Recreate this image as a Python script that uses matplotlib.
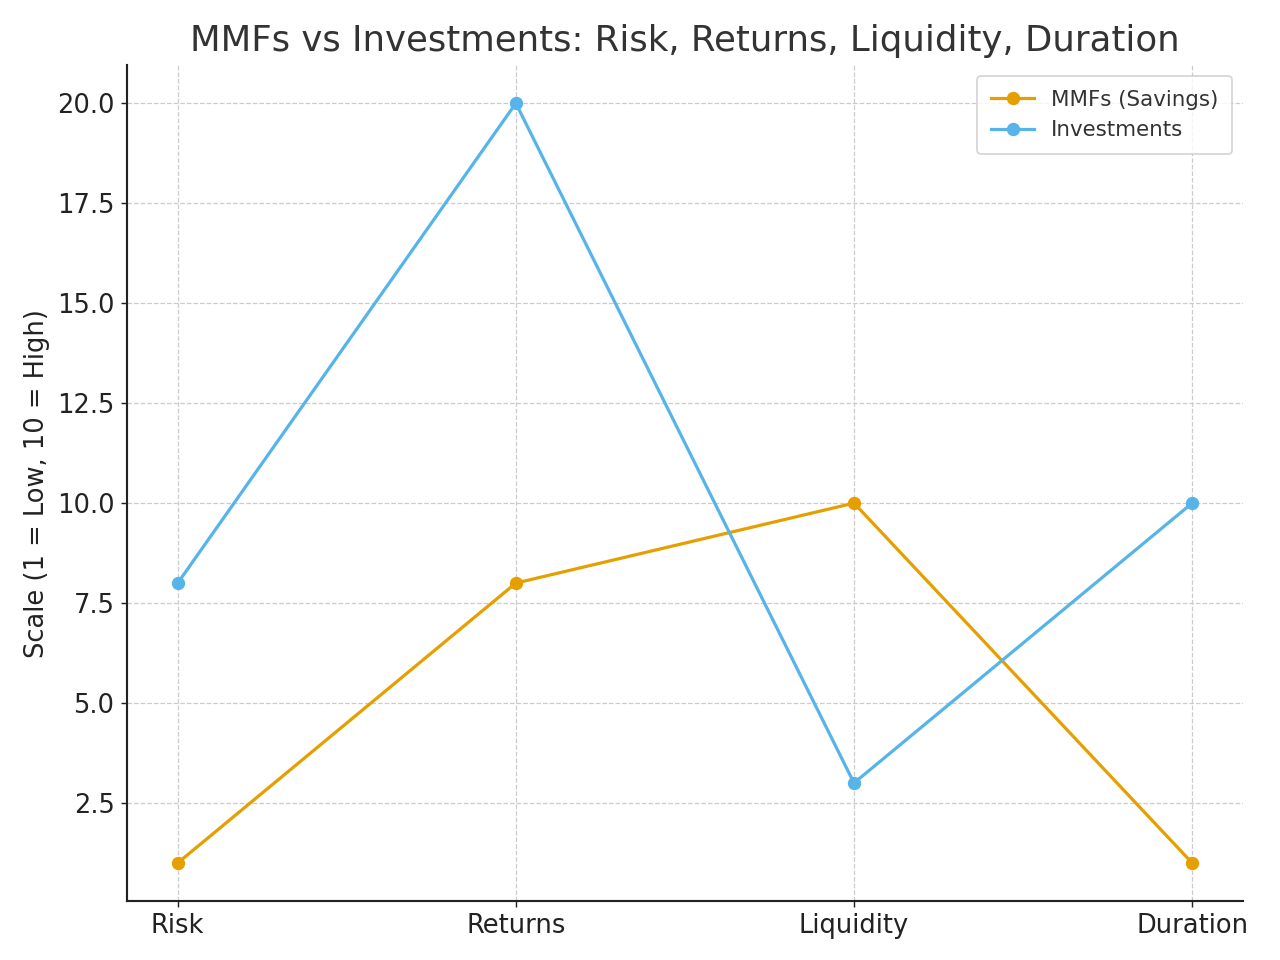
import matplotlib
matplotlib.use('Agg')
import matplotlib.pyplot as plt

categories = ['Risk', 'Returns', 'Liquidity', 'Duration']
mmfs = [1, 8, 10, 1]
investments = [8, 20, 3, 10]

fig = plt.figure(figsize=(10, 7.5), dpi=128)
ax = fig.add_axes([0.0992, 0.0615, 0.8718, 0.8705])

ax.plot(categories, mmfs, marker='o', color='#E69F00', lw=1.8, ms=6.5,
        label='MMFs (Savings)')
ax.plot(categories, investments, marker='o', color='#56B4E9', lw=1.8, ms=6.5,
        label='Investments')

ax.set_title('MMFs vs Investments: Risk, Returns, Liquidity, Duration',
             fontsize=20, color='#333333', pad=8)
ax.set_ylabel('Scale (1 = Low, 10 = High)', fontsize=14.5, color='#222222')
ax.tick_params(labelsize=14.5, colors='#222222')
ax.grid(True, ls='--', color='#cccccc', lw=0.7)
ax.spines['top'].set_visible(False)
ax.spines['right'].set_visible(False)
for s in ('left', 'bottom'):
    ax.spines[s].set_color('#222222')
    ax.spines[s].set_linewidth(1.2)
ax.legend(loc='upper right', fontsize=12, labelcolor='#333333',
          edgecolor='#cccccc', borderpad=0.65)

fig.savefig('out.png', dpi=128)
